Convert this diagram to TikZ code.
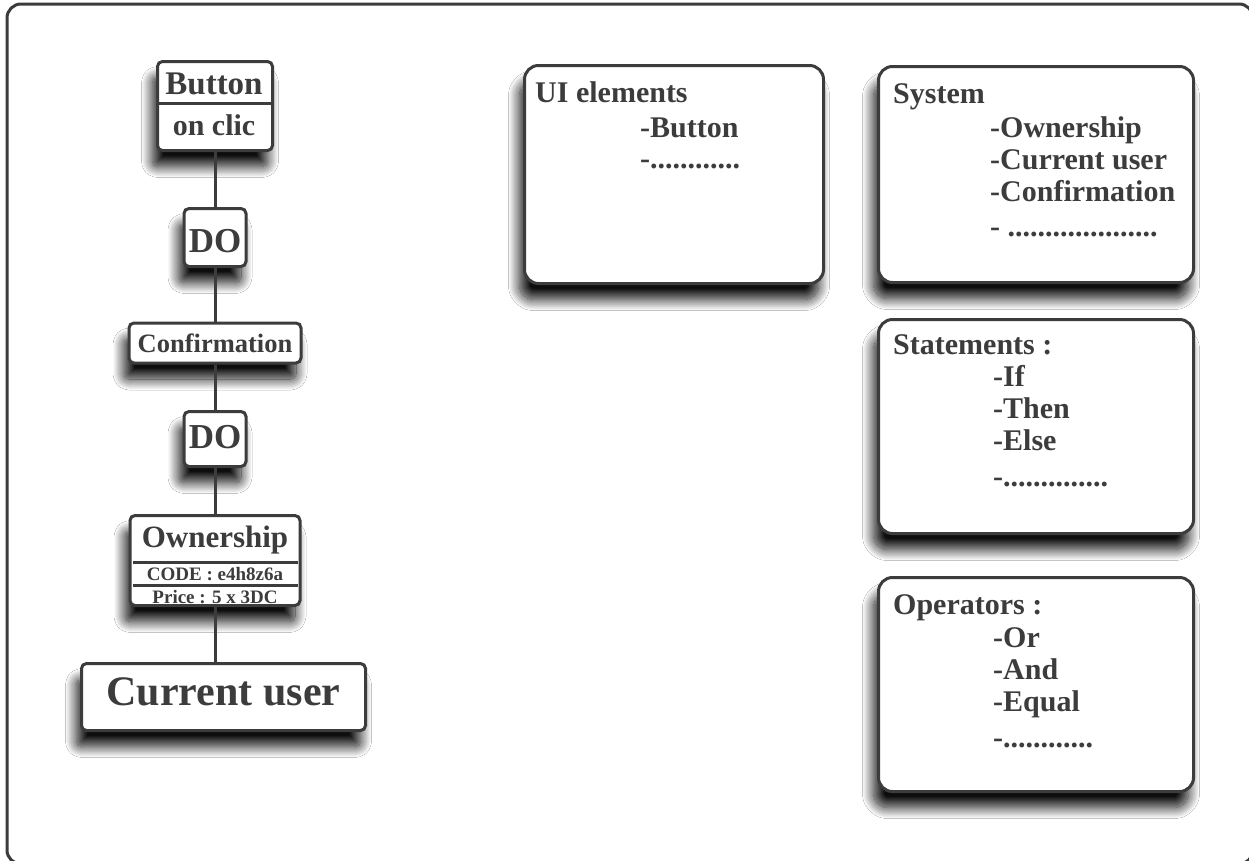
\documentclass[tikz,border=0pt]{standalone}
\usepackage{fontspec}
\setmainfont{Liberation Serif}
\usetikzlibrary{shadows.blur}
\definecolor{ink}{HTML}{3C3C3C}
\newcommand\fsz[1]{\fontsize{#1}{#1}\selectfont}
\tikzset{
  shad/.style={blur shadow={shadow xshift=-5pt, shadow yshift=-16pt, shadow blur radius=11pt, shadow blur steps=20, shadow opacity=95}},
  box/.style={draw=ink, line width=3pt, rounded corners=5pt, fill=white, inner sep=0pt, shad},
  bigbox/.style={box, rounded corners=14pt},
  conn/.style={draw=ink, line width=3pt},
  divline/.style={draw=ink, line width=3pt},
  txt/.style={text=ink, inner sep=0pt, anchor=base},
  ltxt/.style={text=ink, inner sep=0pt, anchor=base west, font=\bfseries\fsz{30}},
}
\begin{document}
\begin{tikzpicture}[x=1pt, y=-1pt]
\useasboundingbox (0,0) rectangle (1249,860);
\fill[white] (0,0) rectangle (1249,860);
\draw[ink, line width=3pt, rounded corners=14pt] (7,4) rectangle (1253,864);

% ---- left column boxes
\node[box, minimum width=115, minimum height=89] (button) at (215,106) {};
\node[box, minimum width=62, minimum height=58] (do1) at (215,237.5) {};
\node[box, minimum width=172, minimum height=40] (conf) at (215,343) {};
\node[box, minimum width=62, minimum height=55] (do2) at (215,439) {};
\node[box, minimum width=170, minimum height=90] (own) at (215,560.5) {};
\node[box, minimum width=284, minimum height=67] (cur) at (223.5,697) {};

% connectors
\draw[conn] (button.south) -- (do1.north);
\draw[conn] (do1.south) -- (conf.north);
\draw[conn] (conf.south) -- (do2.north);
\draw[conn] (do2.south) -- (own.north);
\draw[conn] (own.south) -- (own.south |- cur.north);

% texts left
\node[txt, font=\bfseries\fsz{33}] (tbutton) at (214,94) {Button};
\draw[divline] (button.west |- 0,103.5) -- (button.east |- 0,103.5);
\node[txt, font=\bfseries\fsz{30}] (tonclic) at (214,135) {on clic};
\node[txt, font=\bfseries\fsz{35}] (tdo1) at (215,252) {DO};
\node[txt, font=\bfseries\fsz{26.5}] (tconf) at (215,352) {Confirmation};
\node[txt, font=\bfseries\fsz{35}] (tdo2) at (215,448) {DO};
\node[txt, font=\bfseries\fsz{31}] (town) at (215,547) {Ownership};
\draw[divline] (133,562) -- (298,562);
\node[txt, font=\bfseries\fsz{19}] (tcode) at (215,580) {CODE : e4h8z6a};
\draw[divline] (133,585) -- (298,585);
\node[txt, font=\bfseries\fsz{19}] (tprice) at (215,603) {Price : 5 x 3DC};
\node[txt, font=\bfseries\fsz{42}] (tcur) at (223.5,705) {Current user};

% ---- right boxes
\node[bigbox, minimum width=299, minimum height=218] (ui) at (674,174.5) {};
\node[bigbox, minimum width=315, minimum height=216] (sys) at (1036,174.5) {};
\node[bigbox, minimum width=315, minimum height=214] (stm) at (1036,426.5) {};
\node[bigbox, minimum width=315, minimum height=214] (ops) at (1036,684.5) {};

\node[ltxt] (uit) at (535,102) {UI elements};
\node[ltxt] (ui1) at (640,137) {-Button};
\node[ltxt] (ui2) at (640,168) {-............};

\node[ltxt] (syst) at (893,103) {System};
\node[ltxt] (sys1) at (990,137) {-Ownership};
\node[ltxt] (sys2) at (990,169) {-Current user};
\node[ltxt] (sys3) at (990,201) {-Confirmation};
\node[ltxt] (sys4) at (990,236) {- ....................};

\node[ltxt] (stmt) at (893,354) {Statements :};
\node[ltxt] (stm1) at (993,386) {-If};
\node[ltxt] (stm2) at (993,418) {-Then};
\node[ltxt] (stm3) at (993,450) {-Else};
\node[ltxt] (stm4) at (993,486) {-..............};

\node[ltxt] (opst) at (893,614) {Operators :};
\node[ltxt] (ops1) at (993,647) {-Or};
\node[ltxt] (ops2) at (993,679) {-And};
\node[ltxt] (ops3) at (993,711) {-Equal};
\node[ltxt] (ops4) at (993,747) {-............};
\end{tikzpicture}
\end{document}
